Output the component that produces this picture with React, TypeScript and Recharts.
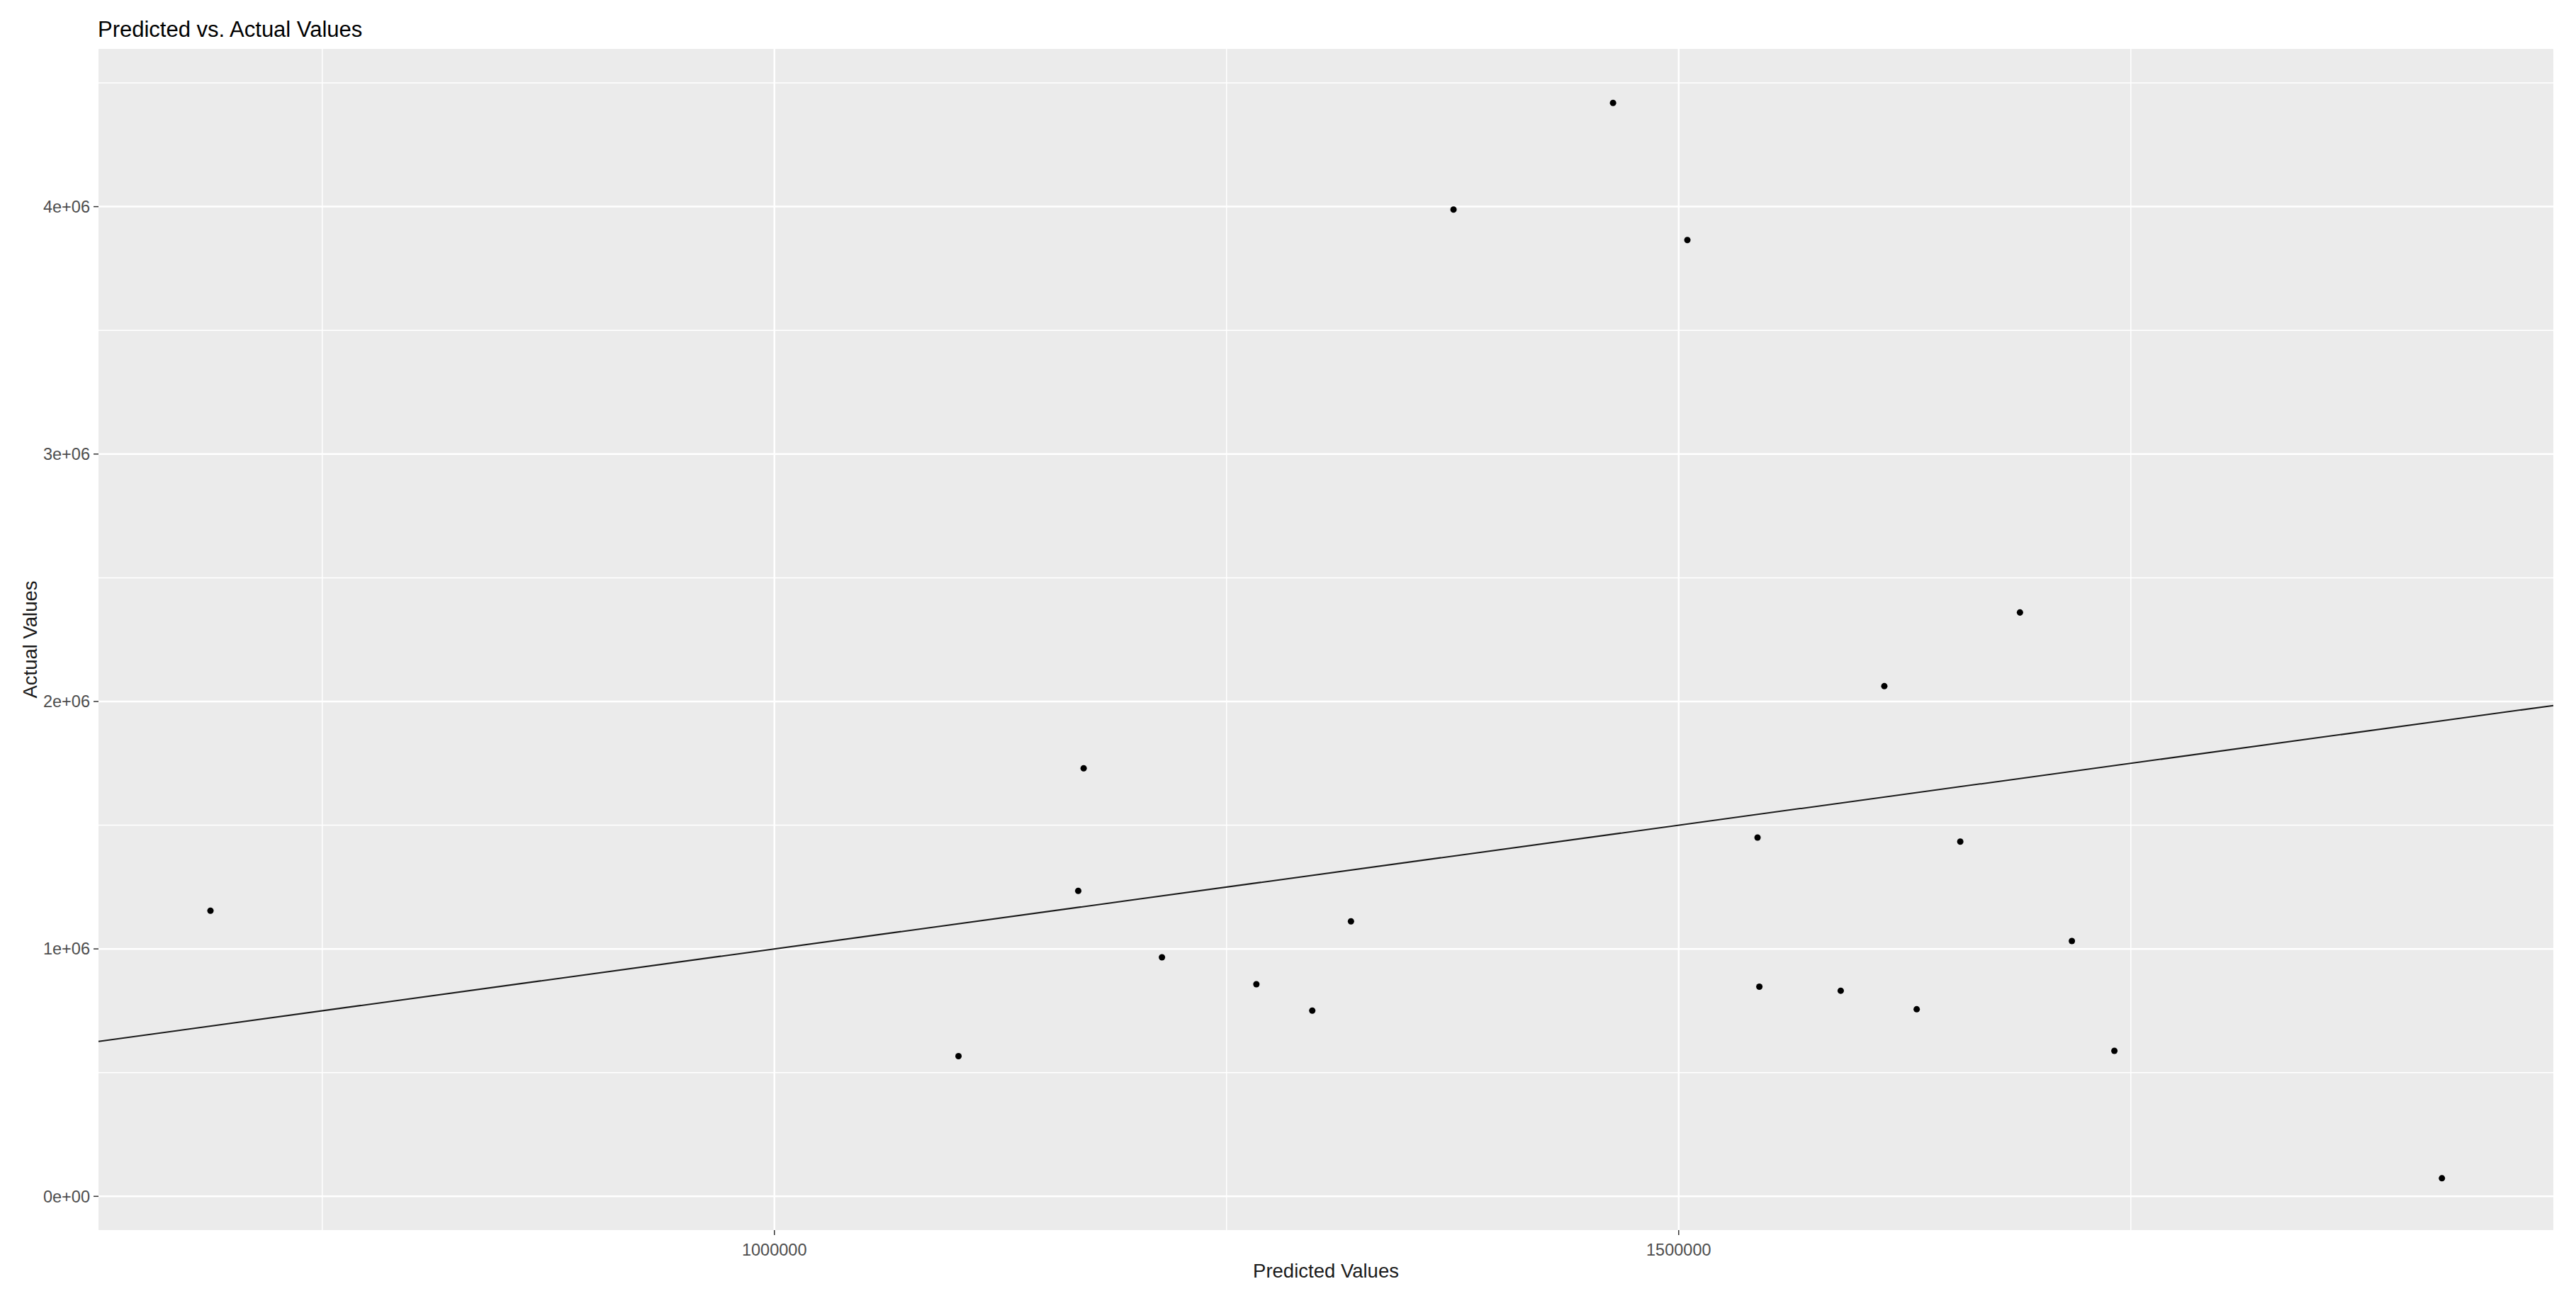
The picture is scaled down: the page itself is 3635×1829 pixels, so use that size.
import React from 'react';
import {
  ScatterChart,
  Scatter,
  XAxis,
  YAxis,
  ZAxis,
  CartesianGrid,
  ReferenceLine,
} from 'recharts';

// values
const predicted = [
  688200, 1101800, 1171000, 1168000, 1214300, 1266500, 1297400, 1318800, 1375500, 1463700,
  1504800, 1543600, 1544600, 1589600, 1613700, 1631600, 1655700, 1688700, 1717400, 1740900,
  1922000,
];
const actual = [
  1154400, 566700, 1730000, 1234500, 966200, 857400, 750600, 1111400, 3988300, 4419000,
  3865100, 1450200, 847400, 831000, 2061900, 756000, 1433600, 2359700, 1031800, 588200,
  73000,
];

const xTicks = [1000000, 1500000];
const xMinor = [750000, 1250000, 1750000];
const yTicks = [0, 1000000, 2000000, 3000000, 4000000];
const yMinor = [500000, 1500000, 2500000, 3500000, 4500000];

const X_DOMAIN: [number, number] = [626300, 1983600];
const Y_DOMAIN: [number, number] = [-136500, 4637500];

const points = predicted.map((p, i) => ({ predicted: p, actual: actual[i] }));

const FONT = '"Liberation Sans", Arial, sans-serif';
const PANEL = '#EBEBEB';

// ggplot style scientific labels: 1e+06
function sci(v: number) {
  const [m, e] = v.toExponential(0).split('e');
  return `${m}e${e[0]}${e.slice(1).padStart(2, '0')}`;
}

function XTitle(props: any) {
  const vb = props.viewBox;
  return (
    <text x={vb.x + vb.width / 2} y={vb.y + 67} textAnchor="middle" fontSize={27.5} fill="#1a1a1a" fontFamily={FONT}>
      Predicted Values
    </text>
  );
}

function YTitle(props: any) {
  const vb = props.viewBox;
  const cx = 52;
  const cy = vb.y + vb.height / 2;
  return (
    <text x={cx} y={cy} transform={`rotate(-90, ${cx}, ${cy})`} textAnchor="middle" fontSize={27.5} fill="#1a1a1a" fontFamily={FONT}>
      Actual Values
    </text>
  );
}

export default function App() {
  return (
    <div style={{ position: 'absolute', left: 0, top: 0, width: 3635, height: 1829, background: '#ffffff', fontFamily: FONT }}>
      <div style={{ position: 'absolute', left: 138, top: 26, fontSize: 31, lineHeight: 1, color: '#000000', whiteSpace: 'nowrap' }}>
        Predicted vs. Actual Values
      </div>
      <ScatterChart width={3635} height={1829} margin={{ top: 69, right: 32, bottom: 0, left: 0 }}>
        <CartesianGrid
          fill={PANEL}
          stroke="#ffffff"
          strokeWidth={1.5}
          horizontalValues={yMinor}
          verticalValues={xMinor}
        />
        <CartesianGrid
          stroke="#ffffff"
          strokeWidth={2.5}
          horizontalValues={yTicks}
          verticalValues={xTicks}
        />
        <XAxis
          type="number"
          dataKey="predicted"
          domain={X_DOMAIN}
          ticks={xTicks}
          allowDataOverflow
          height={93}
          axisLine={false}
          tickSize={7}
          tickMargin={12}
          tickLine={{ stroke: '#333333', strokeWidth: 1.5 }}
          tick={{ fill: '#4D4D4D', fontSize: 23.5, fontFamily: FONT }}
          label={{ content: XTitle }}
        />
        <YAxis
          type="number"
          dataKey="actual"
          domain={Y_DOMAIN}
          ticks={yTicks}
          allowDataOverflow
          width={139}
          axisLine={false}
          tickSize={7}
          tickMargin={5}
          tickLine={{ stroke: '#333333', strokeWidth: 1.5 }}
          tick={{ fill: '#4D4D4D', fontSize: 23.5, fontFamily: FONT }}
          tickFormatter={sci}
          label={{ content: YTitle }}
        />
        <ZAxis range={[95, 95]} />
        <ReferenceLine
          segment={[
            { x: X_DOMAIN[0], y: X_DOMAIN[0] },
            { x: X_DOMAIN[1], y: X_DOMAIN[1] },
          ]}
          stroke="#1a1a1a"
          strokeWidth={2}
        />
        <Scatter data={points} fill="#000000" isAnimationActive={false} />
      </ScatterChart>
    </div>
  );
}
